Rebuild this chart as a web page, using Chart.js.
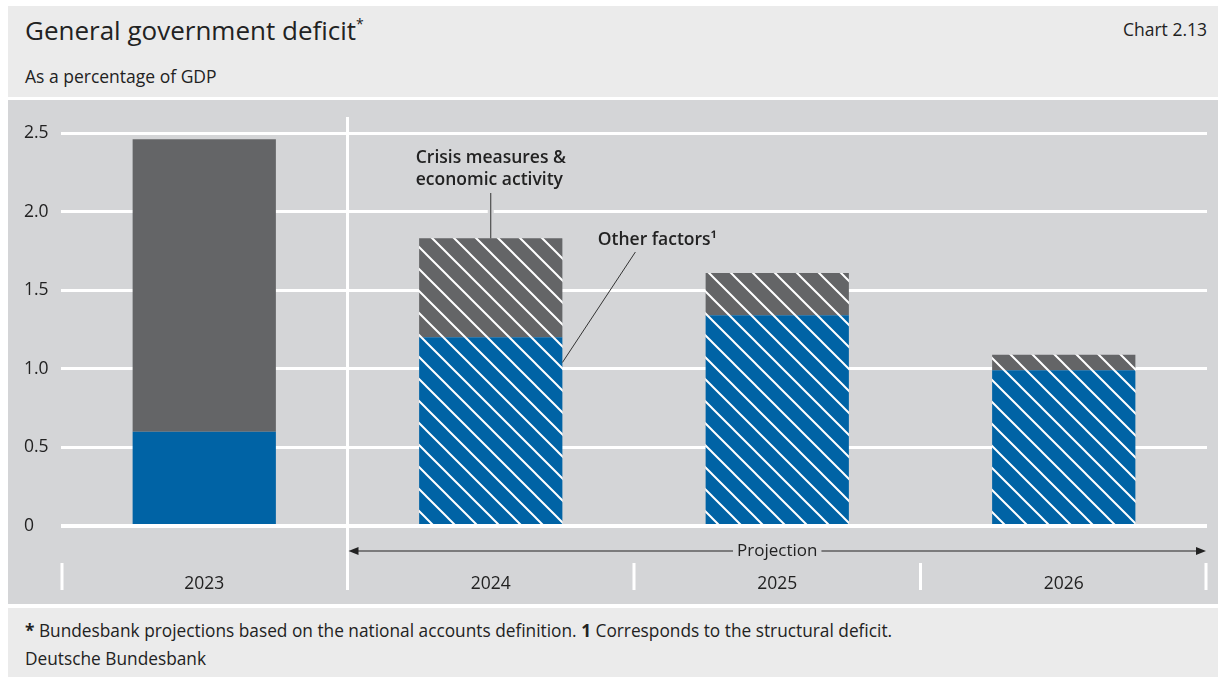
<!DOCTYPE html>
<html>
<head>
<meta charset="utf-8">
<script src="https://cdn.jsdelivr.net/npm/chart.js@4.4.1/dist/chart.umd.min.js"></script>
<style>
  html, body { margin: 0; padding: 0; background: #fff; width: 1220px; height: 677px; overflow: hidden; }
  body { font-family: "Open Sans", sans-serif; color: #222; position: relative; }
  .panel { position: absolute; left: 8px; width: 1210px; }
  .head { top: 6px; height: 91px; background: #ebebeb; }
  .plot { top: 100px; height: 504px; background: #d4d5d7; }
  .foot { top: 608px; height: 69px; background: #ebebeb; }
  .txt { position: absolute; white-space: nowrap; }
  .title { left: 17px; top: 8px; font-size: 26px; line-height: 32px; }
  .title sup { font-size: 14px; vertical-align: 11px; line-height: 0; }
  .sub { left: 17px; top: 59px; font-size: 17.5px; line-height: 22px; }
  .num { right: 11px; top: 12px; font-size: 17.5px; line-height: 22px; }
  .note { left: 17px; font-size: 17.3px; line-height: 22px; }
</style>
</head>
<body>
<div class="panel head">
  <div class="txt title">General government deficit<sup>*</sup></div>
  <div class="txt sub">As a percentage of GDP</div>
  <div class="txt num">Chart 2.13</div>
</div>
<div class="panel plot"><canvas id="chart" width="1210" height="504"></canvas></div>
<div class="panel foot">
  <div class="txt note" style="top:12px"><b>*</b> Bundesbank projections based on the national accounts definition. <b>1</b> Corresponds to the structural deficit.</div>
  <div class="txt note" style="top:40px">Deutsche Bundesbank</div>
</div>
<script>
// data
const years = ["2023", "2024", "2025", "2026"];
const otherFactors = [0.60, 1.20, 1.34, 0.99];
const crisisMeasures = [1.86, 0.63, 0.27, 0.10];
const projected = [false, true, true, true];
const yTicks = [0, 0.5, 1.0, 1.5, 2.0, 2.5];

const BLUE = "#0063a5";
const GREY = "#646567";
const BG = "#d4d5d7";
const FONT = "Open Sans";

function hatch(color) {
  const s = 22;
  const c = document.createElement("canvas");
  c.width = s; c.height = s;
  const g = c.getContext("2d");
  g.fillStyle = color;
  g.fillRect(0, 0, s, s);
  g.strokeStyle = "#fff";
  g.lineWidth = 2;
  g.beginPath();
  g.moveTo(-2, -2); g.lineTo(s + 2, s + 2);
  g.moveTo(-2, s - 2); g.lineTo(2, s + 2);
  g.moveTo(s - 2, -2); g.lineTo(s + 2, 2);
  g.stroke();
  return g.createPattern(c, "repeat");
}

const fills = (color) => projected.map((p) => (p ? hatch(color) : color));

const extras = {
  id: "extras",
  afterDraw(chart) {
    const { ctx, chartArea: a, scales: { x, y } } = chart;
    const xs = years.map((_, i) => x.getPixelForValue(i));
    const split = (xs[0] + xs[1]) / 2;
    ctx.save();

    // projection divider and bottom ticks
    ctx.strokeStyle = "#fff";
    ctx.lineWidth = 3;
    ctx.beginPath();
    ctx.moveTo(split, 17); ctx.lineTo(split, 490);
    [a.left + 1, (xs[1] + xs[2]) / 2, (xs[2] + xs[3]) / 2, a.right - 1].forEach((px) => {
      ctx.moveTo(px, 463); ctx.lineTo(px, 490);
    });
    ctx.stroke();

    // projection arrow
    const ay = 451;
    ctx.font = `17px "${FONT}"`;
    ctx.textAlign = "center";
    ctx.textBaseline = "middle";
    const label = "Projection";
    const tw = ctx.measureText(label).width;
    const cx = xs[2];
    ctx.strokeStyle = "#222";
    ctx.fillStyle = "#222";
    ctx.lineWidth = 1.2;
    ctx.beginPath();
    ctx.moveTo(split + 6, ay); ctx.lineTo(cx - tw / 2 - 4, ay);
    ctx.moveTo(cx + tw / 2 + 4, ay); ctx.lineTo(a.right - 6, ay);
    ctx.stroke();
    ctx.beginPath();
    ctx.moveTo(split + 1, ay); ctx.lineTo(split + 11, ay - 4); ctx.lineTo(split + 11, ay + 4); ctx.closePath();
    ctx.moveTo(a.right - 1, ay); ctx.lineTo(a.right - 11, ay - 4); ctx.lineTo(a.right - 11, ay + 4); ctx.closePath();
    ctx.fill();
    ctx.fillText(label, cx, ay);

    // annotation: crisis measures
    const top1 = y.getPixelForValue(otherFactors[1] + crisisMeasures[1]);
    ctx.strokeStyle = BG;
    ctx.lineWidth = 6;
    ctx.beginPath(); ctx.moveTo(xs[1], top1 - 4); ctx.lineTo(xs[1], 93); ctx.stroke();
    ctx.strokeStyle = "#333";
    ctx.lineWidth = 1;
    ctx.beginPath(); ctx.moveTo(xs[1], top1); ctx.lineTo(xs[1], 93); ctx.stroke();
    ctx.font = `600 17.5px "${FONT}"`;
    ctx.textAlign = "left";
    ctx.fillStyle = "#222";
    ctx.fillText("Crisis measures &", xs[1] - 75, 58);
    ctx.fillText("economic activity", xs[1] - 75, 80);

    // annotation: other factors
    const barRight = xs[1] + x.getPixelForValue(1) - x.getPixelForValue(0.75);
    const y2 = y.getPixelForValue(1.04);
    ctx.beginPath(); ctx.moveTo(barRight, y2); ctx.lineTo(barRight + 73, 152); ctx.stroke();
    ctx.fillText("Other factors\u00b9", xs[1] + 107, 140);

    ctx.restore();
  },
};

new Chart(document.getElementById("chart"), {
  type: "bar",
  data: {
    labels: years,
    datasets: [
      { label: "Other factors", data: otherFactors, backgroundColor: fills(BLUE) },
      { label: "Crisis measures & economic activity", data: crisisMeasures, backgroundColor: fills(GREY) },
    ],
  },
  options: {
    responsive: false,
    animation: false,
    layout: { padding: { left: 16, right: 11, top: 33, bottom: 0 } },
    datasets: { bar: { barPercentage: 0.5, categoryPercentage: 1, borderWidth: 0 } },
    plugins: { legend: { display: false }, tooltip: { enabled: false } },
    scales: {
      x: {
        stacked: true,
        grid: { display: false, drawTicks: false },
        border: { display: false },
        ticks: { padding: 48, color: "#222", font: { family: FONT, size: 17.5 } },
        afterFit(s) { s.height = 78; },
      },
      y: {
        stacked: true,
        min: 0,
        max: 2.5,
        afterBuildTicks(s) { s.ticks = yTicks.map((v) => ({ value: v })); },
        grid: { color: "#fff", lineWidth: (c) => (c.tick && c.tick.value === 0 ? 4 : 3), drawTicks: false },
        border: { display: false },
        ticks: {
          padding: 0,
          crossAlign: "far",
          color: "#222",
          font: { family: FONT, size: 17.5 },
          callback: (v) => (v === 0 ? "0" : v.toFixed(1)),
        },
        afterFit(s) { s.width = 37; },
      },
    },
  },
  plugins: [extras],
});
</script>
</body>
</html>
